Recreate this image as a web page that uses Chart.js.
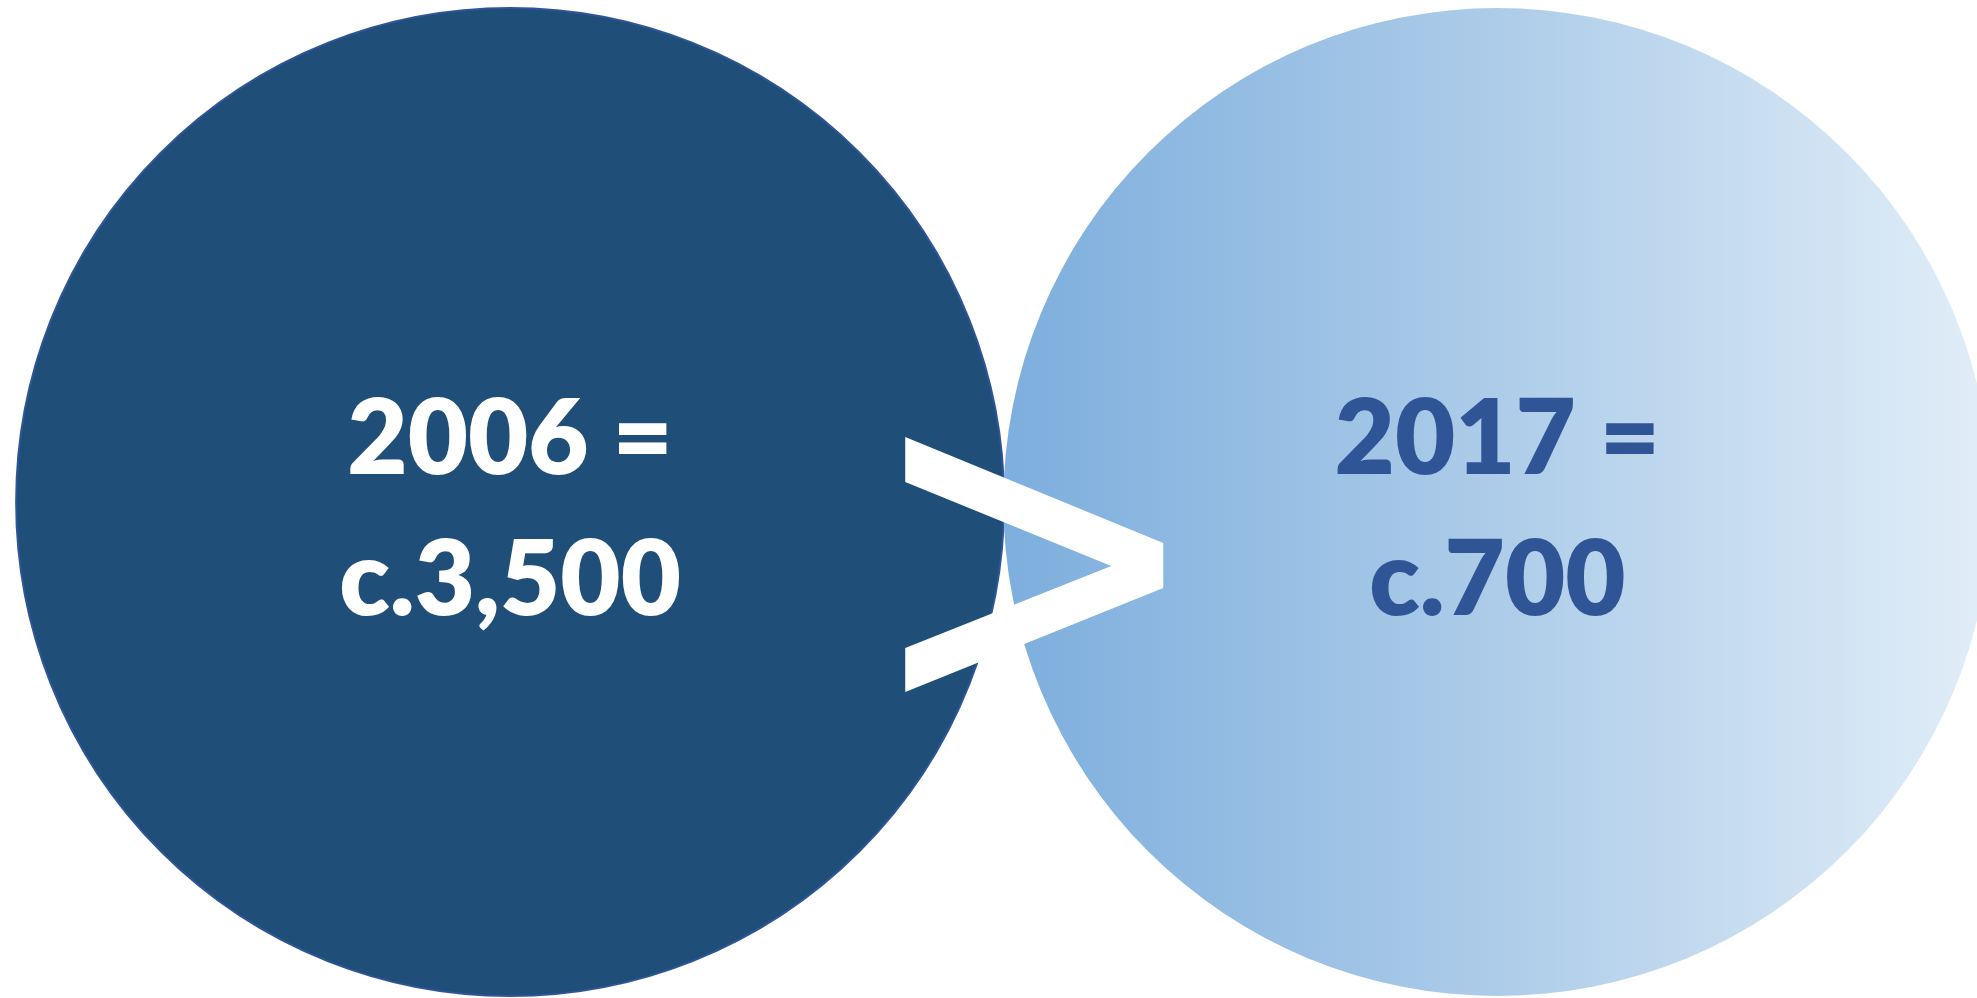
<!DOCTYPE html>
<html>
<head>
<meta charset="utf-8">
<script src="https://cdn.jsdelivr.net/npm/chart.js@4.4.1/dist/chart.umd.min.js"></script>
<style>
    html, body { margin: 0; padding: 0; background: #ffffff; overflow: hidden; }
    #wrap { position: relative; width: 1991px; height: 998px; }
</style>
</head>
<body>
<div id="wrap"><canvas id="compare-chart"></canvas></div>
<script>
// data
const years = ['2006', '2017'];
const counts = [3500, 700];
const baseline = [0, 0];

// styles
const darkBlue = '#1F4E79';
const midBlue = '#2F5597';
const circleRadius = 494;
const gradientStops = ['#7DAEDD', '#ADCCE9', '#E2EEF8'];
const textColors = ['#FFFFFF', midBlue];

function formatCount(n) {
    return 'c.' + n.toLocaleString('en-US');
}

function rightFill(context) {
    const chart = context.chart;
    const cx = chart.scales.x ? chart.scales.x.getPixelForValue(context.dataIndex) : NaN;
    if (!isFinite(cx)) return gradientStops[1]; // scales not laid out yet
    const g = chart.ctx.createLinearGradient(cx - circleRadius, 0, cx + circleRadius, 0);
    g.addColorStop(0, gradientStops[0]);
    g.addColorStop(0.5, gradientStops[1]);
    g.addColorStop(1, gradientStops[2]);
    return g;
}

// chevron outline, relative to its tip
const chevron = [[-258, -128], [0, -22], [0, 23], [-258, 127], [-258, 83], [-52, 1], [-258, -83]];

const labelsPlugin = {
    id: 'circleLabels',
    afterDatasetsDraw(chart) {
        const ctx = chart.ctx;
        const xs = chart.scales.x;
        const ys = chart.scales.y;
        const cy = ys.getPixelForValue(0);

        // ">" between the circles
        const mid = (xs.getPixelForValue(0) + xs.getPixelForValue(1)) / 2;
        const tipX = mid + 159.5;
        const tipY = cy + 63;
        ctx.save();
        ctx.fillStyle = '#FFFFFF';
        ctx.beginPath();
        chevron.forEach((p, i) => {
            if (i === 0) ctx.moveTo(tipX + p[0], tipY + p[1]);
            else ctx.lineTo(tipX + p[0], tipY + p[1]);
        });
        ctx.closePath();
        ctx.fill();

        ctx.font = '800 104px Lato';
        ctx.textAlign = 'center';
        ctx.textBaseline = 'alphabetic';
        years.forEach((yr, i) => {
            const cx = xs.getPixelForValue(i);
            ctx.fillStyle = textColors[i];
            ctx.fillText(yr + ' =', cx, cy - 28);
            ctx.fillText(formatCount(counts[i]), cx, cy + 113);
        });
        ctx.restore();
    }
};

const chart = new Chart(document.getElementById('compare-chart'), {
    type: 'line',
    data: {
        labels: years,
        datasets: [{
            data: baseline,
            showLine: false,
            clip: false,
            pointRadius: circleRadius,
            pointHoverRadius: circleRadius,
            pointBackgroundColor: ctx => ctx.dataIndex === 0 ? darkBlue : rightFill(ctx),
            pointBorderColor: ctx => ctx.dataIndex === 0 ? midBlue : 'rgba(0,0,0,0)',
            pointBorderWidth: ctx => ctx.dataIndex === 0 ? 2 : 0
        }]
    },
    options: {
        responsive: true,
        maintainAspectRatio: false,
        animation: false,
        events: [],
        layout: { autoPadding: false, padding: { left: 16.5, right: 0, top: 6, bottom: 0 } },
        plugins: {
            legend: { display: false },
            tooltip: { enabled: false }
        },
        scales: {
            x: { display: false, offset: true },
            y: { display: false, min: -1, max: 1 }
        }
    },
    plugins: [labelsPlugin]
});
</script>
</body>
</html>
